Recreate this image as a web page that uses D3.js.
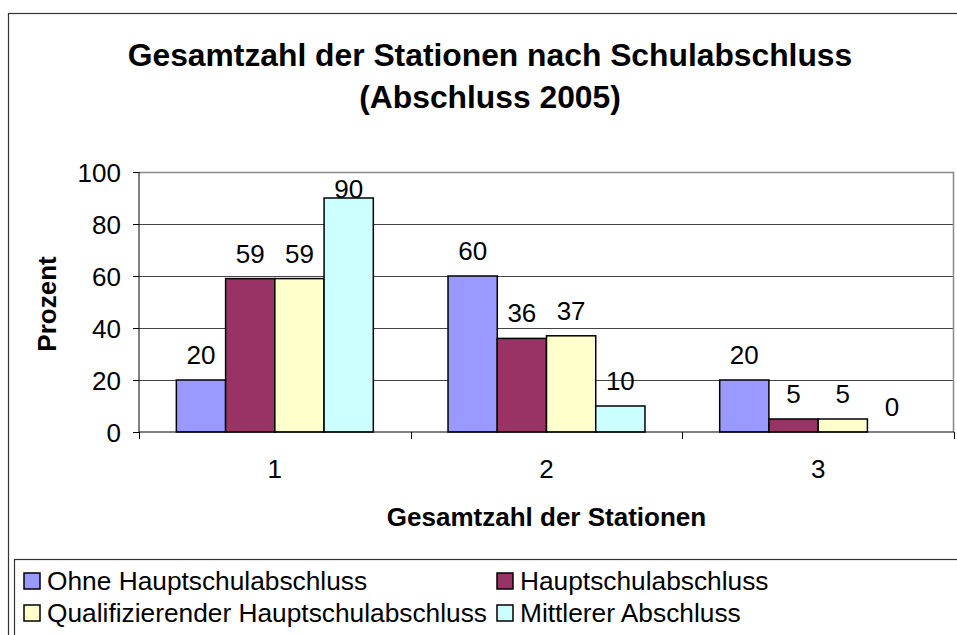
<!DOCTYPE html>
<html>
<head>
<meta charset="utf-8">
<script src="https://cdn.jsdelivr.net/npm/d3@7"></script>
<style>
  body { margin: 0; background: #fff; }
  svg { font-family: "Liberation Sans", Arial, sans-serif; }
</style>
</head>
<body>
<div id="chart"></div>
<script>
// data
const categories = ["1", "2", "3"];
const seriesNames = [
  "Ohne Hauptschulabschluss",
  "Hauptschulabschluss",
  "Qualifizierender Hauptschulabschluss",
  "Mittlerer Abschluss"
];
const ohne = [20, 60, 20];
const haupt = [59, 36, 5];
const quali = [59, 37, 5];
const mittlerer = [90, 10, 0];
const yTicks = [0, 20, 40, 60, 80, 100];
const colors = ["#9999FF", "#993366", "#FFFFCC", "#CCFFFF"];

const seriesValues = [ohne, haupt, quali, mittlerer];

// chart sizes
let dims = {
  width: 957,
  height: 635,
  margin: { top: 172, right: 3, bottom: 203, left: 139 }
};
dims.boundedWidth = dims.width - dims.margin.left - dims.margin.right;
dims.boundedHeight = dims.height - dims.margin.top - dims.margin.bottom;

const svg = d3.select("#chart")
  .append("svg")
  .attr("width", dims.width)
  .attr("height", dims.height);

// outer chart border (runs off the right / bottom edge)
svg.append("rect")
  .attr("x", 8.5).attr("y", 13.5)
  .attr("width", 970).attr("height", 640)
  .attr("fill", "none").attr("stroke", "#333").attr("stroke-width", 1.2);

// title
const title = svg.append("text")
  .attr("text-anchor", "middle")
  .attr("font-weight", "bold")
  .attr("font-size", 31.8);
title.append("tspan").attr("x", 490).attr("y", 66).text("Gesamtzahl der Stationen nach Schulabschluss");
title.append("tspan").attr("x", 490).attr("y", 108).text("(Abschluss 2005)");

const g = svg.append("g")
  .attr("transform", `translate(${dims.margin.left},${dims.margin.top})`);

// scales
const x0 = d3.scaleBand()
  .domain(categories)
  .range([0, dims.boundedWidth])
  .paddingInner(0.275)
  .paddingOuter(0.1375);

const x1 = d3.scaleBand()
  .domain(d3.range(seriesNames.length))
  .range([0, x0.bandwidth()]);

const y = d3.scaleLinear()
  .domain([0, 100])
  .range([dims.boundedHeight, 0]);

// gridlines
g.selectAll(".grid")
  .data(yTicks.filter(d => d > 0 && d < 100))
  .enter()
  .append("line")
  .attr("x1", 0).attr("x2", dims.boundedWidth)
  .attr("y1", d => Math.round(y(d)) + 0.5).attr("y2", d => Math.round(y(d)) + 0.5)
  .attr("stroke", "#444");

// plot area border top/right
g.append("path")
  .attr("d", `M0,${Math.round(y(100)) + 0.5}H${dims.boundedWidth - 0.5}V${dims.boundedHeight}`)
  .attr("fill", "none").attr("stroke", "#888").attr("stroke-width", 1.5);

// bars
const groups = g.selectAll(".cat")
  .data(categories)
  .enter()
  .append("g")
  .attr("transform", d => `translate(${x0(d)},0)`);

groups.selectAll("rect")
  .data((c, ci) => seriesValues.map((vals, si) => ({ si, v: vals[ci] })))
  .enter()
  .append("rect")
  .attr("x", d => x1(d.si))
  .attr("y", d => y(d.v))
  .attr("width", x1.bandwidth())
  .attr("height", d => dims.boundedHeight - y(d.v))
  .attr("fill", d => colors[d.si])
  .attr("stroke", "#000")
  .attr("stroke-width", 1.5)
  .style("display", d => d.v === 0 ? "none" : null);

// value labels
groups.selectAll(".lbl")
  .data((c, ci) => seriesValues.map((vals, si) => ({ si, v: vals[ci] })))
  .enter()
  .append("text")
  .attr("x", d => x1(d.si) + x1.bandwidth() / 2)
  .attr("y", d => Math.max(y(d.v) - 16, 26))
  .attr("text-anchor", "middle")
  .attr("font-size", 26)
  .text(d => d.v);

// y axis
const yAxis = g.append("g")
  .call(d3.axisLeft(y).tickValues(yTicks).tickSize(6).tickPadding(12));
yAxis.selectAll("text").attr("font-size", 26).attr("fill", "#000").attr("dy", "0.35em");
yAxis.selectAll("line").attr("stroke", "#000");
yAxis.select(".domain").attr("stroke", "#000").attr("d", `M0,0V${dims.boundedHeight}`);

// x axis: ticks between categories
const xAxis = g.append("g")
  .attr("transform", `translate(0,${dims.boundedHeight})`);
xAxis.append("line")
  .attr("x1", 0).attr("x2", dims.boundedWidth)
  .attr("stroke", "#000").attr("stroke-width", 1.2);
const boundaries = categories.map(c => x0(c) - x0.step() * x0.paddingInner() / 2)
  .concat([dims.boundedWidth]);
xAxis.selectAll(".tick")
  .data(boundaries)
  .enter()
  .append("line")
  .attr("x1", d => Math.round(d) + 0.5).attr("x2", d => Math.round(d) + 0.5)
  .attr("y1", 0).attr("y2", 7)
  .attr("stroke", "#000");
xAxis.selectAll(".catlabel")
  .data(categories)
  .enter()
  .append("text")
  .attr("x", d => x0(d) + x0.bandwidth() / 2)
  .attr("y", 46)
  .attr("text-anchor", "middle")
  .attr("font-size", 26)
  .text(d => d);

// axis titles
svg.append("text")
  .attr("x", dims.margin.left + dims.boundedWidth / 2)
  .attr("y", 526)
  .attr("text-anchor", "middle")
  .attr("font-weight", "bold")
  .attr("font-size", 26)
  .text("Gesamtzahl der Stationen");

svg.append("text")
  .attr("transform", "translate(56,304) rotate(-90)")
  .attr("text-anchor", "middle")
  .attr("font-weight", "bold")
  .attr("font-size", 26)
  .text("Prozent");

// legend
svg.append("rect")
  .attr("x", 14.5).attr("y", 559.5)
  .attr("width", 960).attr("height", 100)
  .attr("fill", "none").attr("stroke", "#333").attr("stroke-width", 1.2);

const legend = svg.selectAll(".legend")
  .data(seriesNames)
  .enter()
  .append("g")
  .attr("transform", (d, i) => `translate(${i % 2 === 0 ? 24 : 497},${i < 2 ? 573 : 605})`);
legend.append("rect")
  .attr("width", 16).attr("height", 16)
  .attr("fill", (d, i) => colors[i])
  .attr("stroke", "#000").attr("stroke-width", 1.5);
legend.append("text")
  .attr("x", 23).attr("y", 8)
  .attr("dy", "0.36em")
  .attr("font-size", 26.3)
  .text(d => d);
</script>
</body>
</html>
